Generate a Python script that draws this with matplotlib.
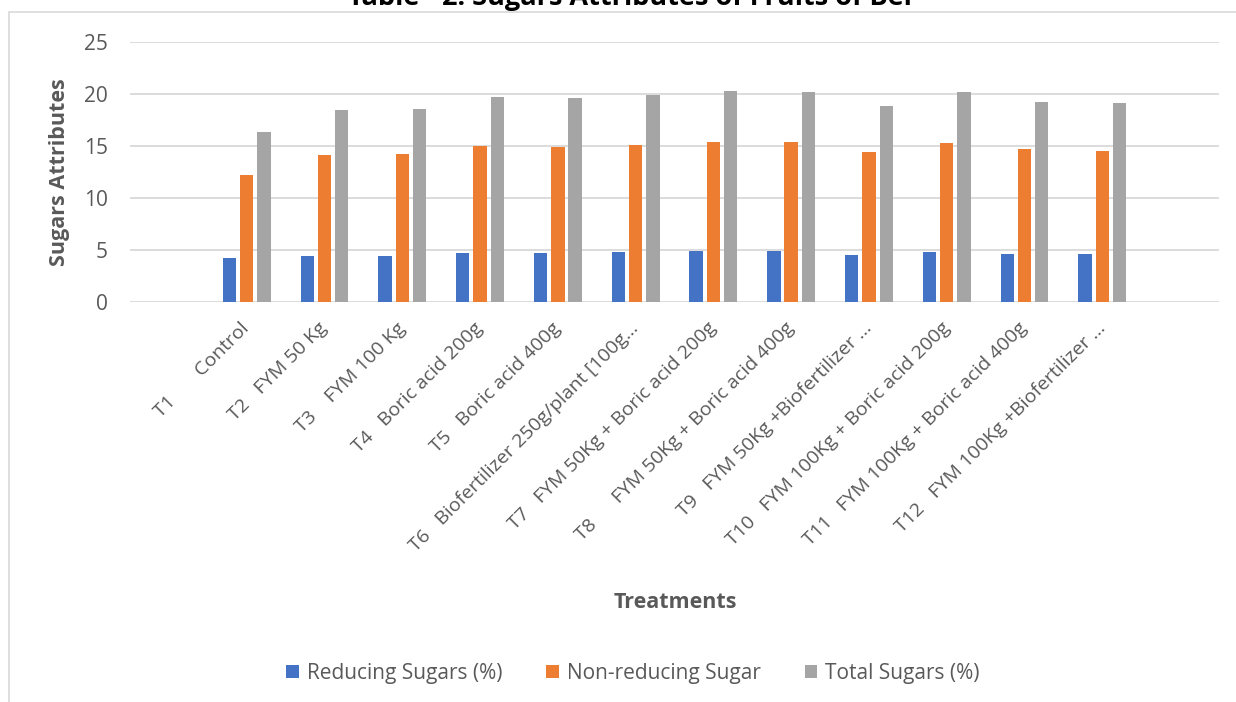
import matplotlib
matplotlib.use("Agg")
import matplotlib.pyplot as plt
import numpy as np
from matplotlib.patches import Rectangle

categories = [
    "T1       Control",
    "T2   FYM 50 Kg",
    "T3    FYM 100 Kg",
    "T4   Boric acid 200g",
    "T5   Boric acid 400g",
    "T6   Biofertilizer 250g/plant [100g\u2026",
    "T7   FYM 50Kg + Boric acid 200g",
    "T8      FYM 50Kg + Boric acid 400g",
    "T9   FYM 50Kg +Biofertilizer \u2026",
    "T10   FYM 100Kg + Boric acid 200g",
    "T11   FYM 100Kg + Boric acid 400g",
    "T12   FYM 100Kg +Biofertilizer \u2026",
]
reducing = [4.18, 4.40, 4.42, 4.69, 4.66, 4.76, 4.86, 4.86, 4.47, 4.79, 4.57, 4.57]
non_reducing = [12.20, 14.13, 14.23, 15.03, 14.90, 15.13, 15.40, 15.36, 14.39, 15.29, 14.68, 14.55]
total = [16.35, 18.47, 18.60, 19.75, 19.62, 19.88, 20.30, 20.23, 18.88, 20.17, 19.27, 19.11]
series_names = ["Reducing Sugars (%)", "Non-reducing Sugar", "Total Sugars (%)"]
colors = ["#4472C4", "#ED7D31", "#A5A5A5"]
yticks = [0, 5, 10, 15, 20, 25]

plt.rcParams['font.family'] = ['Open Sans', 'DejaVu Sans']
W, H = 1236, 702
fig = plt.figure(figsize=(W / 100, H / 100), dpi=100)

# chart border (partially cropped)
fig.patches.append(Rectangle((9 / W, -0.1), 1.2, 1 - 12 / H + 0.1, transform=fig.transFigure,
                             fill=False, edgecolor="#D9D9D9", linewidth=1.2))

ax = fig.add_axes([130 / W, 1 - 301.7 / H, (1219 - 130) / W, (301.7 - 42.2) / H])
x = np.arange(len(categories))
pitch = 0.222
bw = 0.172
for i, (vals, c, name) in enumerate(zip([reducing, non_reducing, total], colors, series_names)):
    ax.bar(x + (i - 1) * pitch, vals, width=bw, color=c, label=name, zorder=3)

ax.set_xlim(-1.5, 12.5)
ax.set_ylim(0, 25)
ax.set_yticks(yticks)
ax.yaxis.grid(True, color="#D9D9D9", linewidth=1.3, zorder=0)
for s in ax.spines.values():
    s.set_visible(False)
ax.tick_params(axis='both', length=0, colors="#595959")
ax.tick_params(axis='y', pad=16, labelsize=15)
ax.set_xticks(x)
ax.set_xticklabels(categories, rotation=45, ha='right', va='center', rotation_mode='anchor')
ax.tick_params(axis='x', pad=17, labelsize=14)

fig.text(60 / W, 1 - 172 / H, "Sugars Attributes", rotation=90, ha='center', va='center',
         fontsize=15.5, fontweight='bold', color="#595959")
fig.text(675 / W, 1 - 602 / H, "Treatments", ha='center', va='center',
         fontsize=15.5, fontweight='bold', color="#595959")
fig.text(632 / W, 1 - 5 / H, "Table - 2: Sugars Attributes of Fruits of Ber", ha='center', va='baseline',
         fontsize=19.5, fontweight='bold', color="#000000")

handles, labels = ax.get_legend_handles_labels()
leg = fig.legend(handles, labels, loc='center', bbox_to_anchor=(633 / W, 1 - 673 / H), ncol=3,
                 frameon=False, fontsize=15, handlelength=0.6, handleheight=0.6,
                 columnspacing=2.1, handletextpad=0.4, labelcolor="#595959")

fig.savefig("out.png", dpi=100)
